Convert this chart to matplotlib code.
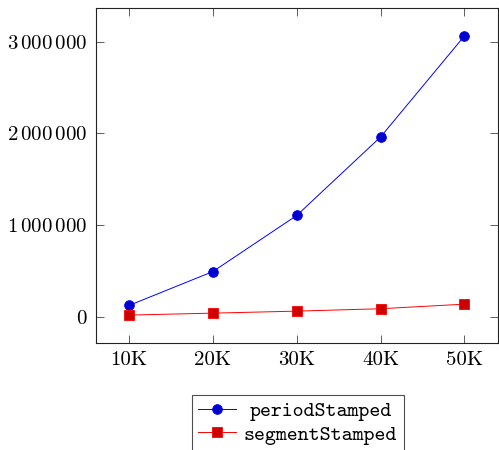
import numpy as np
import matplotlib
matplotlib.use("Agg")
import matplotlib.pyplot as plt
from matplotlib.ticker import FixedLocator, FixedFormatter

plt.rcParams["mathtext.fontset"] = "cm"
plt.rcParams["font.family"] = "cmr10"
plt.rcParams["axes.formatter.use_mathtext"] = True

sizes = [10000, 20000, 30000, 40000, 50000]
size_labels = ["10K", "20K", "30K", "40K", "50K"]
period_stamped = [127000, 496000, 1107000, 1962000, 3062000]
segment_stamped = [22000, 43000, 65000, 91000, 141000]
y_ticks = [0, 1000000, 2000000, 3000000]
y_tick_labels = [r"$0$", r"$1\,000\,000$", r"$2\,000\,000$", r"$3\,000\,000$"]

fig = plt.figure(figsize=(4.99, 4.5), dpi=100)
ax = fig.add_axes([0.1914, 0.2378, 0.8066, 0.7444])

ax.plot(sizes, period_stamped, color="blue", lw=0.7, marker="o", ms=7,
        mfc=(0, 0, 0.8), mec="blue", mew=0.6, label="periodStamped")
ax.plot(sizes, segment_stamped, color="red", lw=0.7, marker="s", ms=7,
        mfc=(0.8, 0, 0), mec="red", mew=0.6, label="segmentStamped")

ax.set_xlim(6000, 54000)
ax.set_ylim(-282000, 3366000)

ax.xaxis.set_major_locator(FixedLocator(sizes))
ax.xaxis.set_major_formatter(FixedFormatter(size_labels))
ax.yaxis.set_major_locator(FixedLocator(y_ticks))
ax.yaxis.set_major_formatter(FixedFormatter(y_tick_labels))

ax.tick_params(direction="in", length=6, width=0.6, color="#444444",
               top=True, right=True, labelsize=15, pad=6)
for s in ax.spines.values():
    s.set_linewidth(0.8)
    s.set_color("#222222")

leg = fig.legend(loc="upper center", bbox_to_anchor=(0.5966, 0.1222),
                 bbox_transform=fig.transFigure, frameon=True, fancybox=False,
                 edgecolor="#222222", prop={"family": "cmtt10", "size": 15},
                 handlelength=1.8, handletextpad=0.4, labelspacing=0.2,
                 borderpad=0.3, borderaxespad=0)
leg.get_frame().set_linewidth(0.8)
# pgfplots centres legend text in its cell: nudge the shorter entry by half a char
leg.get_texts()[0].set_x(5.5)

fig.savefig("out.png", dpi=100)
